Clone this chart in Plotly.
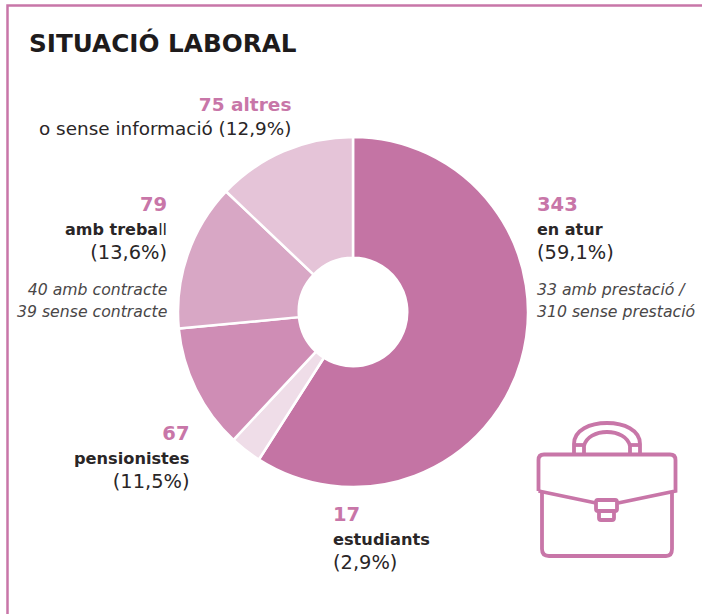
import plotly.graph_objects as go

W, H = 702, 614
categories = ["en atur", "estudiants", "pensionistes", "amb treball", "altres"]
values = [343, 17, 67, 79, 75]
colors = ["#C474A4", "#EFDDE8", "#CF8DB5", "#D8A7C5", "#E5C4D8"]
PINK = "#C876A8"
DARK = "#2A2627"
GREY = "#4A4748"
F = "DejaVu Sans"

def px(x): return x / W
def py(y): return 1 - y / H

fig = go.Figure(go.Pie(
    labels=categories, values=values, sort=False, direction="clockwise", rotation=0,
    hole=0.31, textinfo="none", hoverinfo="label+value",
    marker=dict(colors=colors, line=dict(color="white", width=2.5)),
    domain=dict(x=[px(178), px(528)], y=[py(487), py(137)]), showlegend=False,
))

def num(t, s=19.5):
    return f'<span style="font-size:{s}px;color:{PINK}"><b>{t}</b></span>'
def pct(t, s=19.4):
    return f'<span style="font-size:{s}px">{t}</span>'
def bold(t, s=16.2):
    return f'<span style="font-size:{s}px"><b>{t}</b></span>'
def it(t):
    return f'<span style="font-size:15.7px"><i>{t}</i></span>'

title = ("SITUACIÓ LABORAL", 27, 43)
blocks = [
    # text, x, y centre, anchor, base size (line spacing), colour
    (num("75 altres", 18.5) + "<br>" + pct("o sense informació (12,9%)", 18.4), 293, 117, "right", 18.5, DARK),
    (num("79") + "<br>" + '<span style="font-size:16px"><b>amb treba</b>ll</span>' + "<br>" + pct("(13,6%)"), 169, 229, "right", 18.5, DARK),
    (it("40 amb contracte") + "<br>" + it("39 sense contracte"), 169, 300, "right", 17, GREY),
    (num("67") + "<br>" + bold("pensionistes") + "<br>" + pct("(11,5%)"), 191, 457, "right", 18.5, DARK),
    (num("17") + "<br>" + bold("estudiants") + "<br>" + pct("(2,9%)"), 331, 538, "left", 18.5, DARK),
    (num("343") + "<br>" + bold("en atur", 16) + "<br>" + pct("(59,1%)"), 535, 229, "left", 18.5, DARK),
    (it("33 amb prestació /") + "<br>" + it("310 sense prestació"), 535, 300, "left", 17, GREY),
]
fig.add_annotation(text=title[0], x=px(title[1]), y=py(title[2]), xref="paper", yref="paper",
                   xanchor="left", yanchor="middle", showarrow=False,
                   font=dict(family=F, size=24.7, color="#1E1B1C", weight="bold"))
for text, x, y, anchor, size, color in blocks:
    fig.add_annotation(text=text, x=px(x), y=py(y), xref="paper", yref="paper",
                       xanchor=anchor, yanchor="middle", align=anchor, showarrow=False,
                       font=dict(family=F, size=size, color=color))

def path(cmds):
    out = []
    for c in cmds:
        op, pts = c[0], c[1:]
        out.append(op + " ".join(f"{px(pts[i]):.5f},{py(pts[i+1]):.5f}" for i in range(0, len(pts), 2)))
    return " ".join(out)

def rrect(x0, y0, x1, y1, r):
    return path([("M", x0+r, y0), ("L", x1-r, y0), ("Q", x1, y0, x1, y0+r), ("L", x1, y1-r),
                 ("Q", x1, y1, x1-r, y1), ("L", x0+r, y1), ("Q", x0, y1, x0, y1-r), ("L", x0, y0+r),
                 ("Q", x0, y0, x0+r, y0)]) + " Z"

icon = [
    # flap
    path([("M", 538.5, 491), ("L", 538.5, 460), ("Q", 538.5, 454.5, 544, 454.5), ("L", 670, 454.5),
          ("Q", 675.5, 454.5, 675.5, 460), ("L", 675.5, 491), ("L", 618, 503)]),
    path([("M", 538.5, 491), ("L", 596, 503)]),
    # lower body
    path([("M", 542, 492), ("L", 542, 549), ("Q", 542, 556, 549, 556), ("L", 666, 556),
          ("Q", 672, 556, 672, 549), ("L", 672, 492)]),
    # latch
    rrect(596, 500, 617, 511, 2),
    rrect(599, 511, 614, 520, 2),
    # handle
    path([("M", 574, 453), ("L", 574, 444), ("C", 574, 430, 590, 423, 607, 423),
          ("C", 624, 423, 640, 430, 640, 444), ("L", 640, 453)]),
    path([("M", 584, 453), ("L", 584, 446), ("C", 586, 437, 596, 432, 607, 432),
          ("C", 618, 432, 628, 437, 630, 446), ("L", 630, 453)]),
    path([("M", 574, 445), ("L", 584, 445)]),
    path([("M", 630, 445), ("L", 640, 445)]),
]
shapes = [dict(type="path", path=p, xref="paper", yref="paper",
               line=dict(color=PINK, width=3.8), fillcolor="rgba(0,0,0,0)") for p in icon]
# panel border (top and left)
shapes.append(dict(type="path", path=path([("M", 7.5, 614), ("L", 7.5, 5.5), ("L", 702, 5.5)]),
                   xref="paper", yref="paper", line=dict(color=PINK, width=2.5),
                   fillcolor="rgba(0,0,0,0)"))

fig.update_layout(width=W, height=H, margin=dict(l=0, r=0, t=0, b=0),
                  paper_bgcolor="white", plot_bgcolor="white", shapes=shapes, showlegend=False)
fig.write_html("out.html", config=dict(displayModeBar=False),
               post_script="document.body.style.margin='0';document.body.style.overflow='hidden';")
